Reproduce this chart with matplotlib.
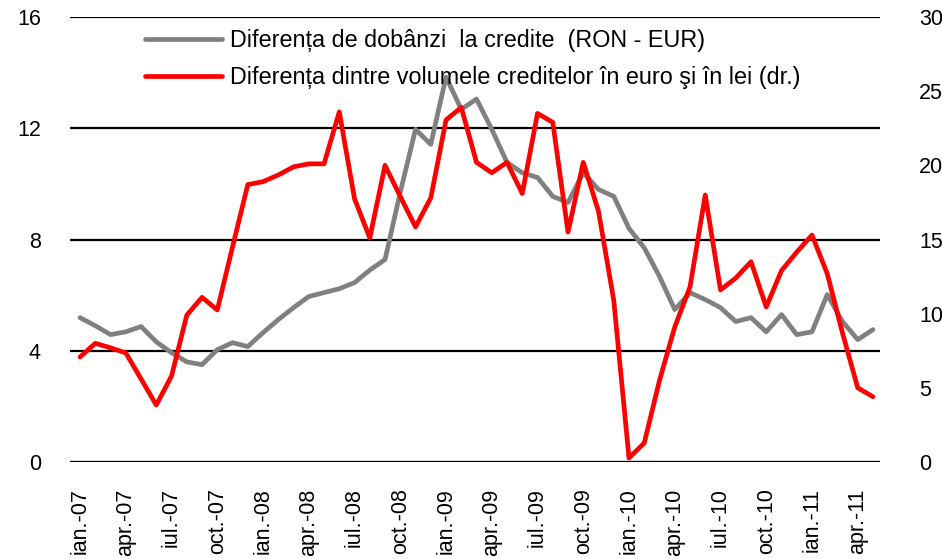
import matplotlib
matplotlib.use("Agg")
import matplotlib.pyplot as plt
import numpy as np

plt.rcParams['font.family'] = ['Liberation Sans', 'DejaVu Sans']

# monthly data, ian.-07 .. mai.-11
tick_labels = ["ian.-07", "apr.-07", "iul.-07", "oct.-07",
               "ian.-08", "apr.-08", "iul.-08", "oct.-08",
               "ian.-09", "apr.-09", "iul.-09", "oct.-09",
               "ian.-10", "apr.-10", "iul.-10", "oct.-10",
               "ian.-11", "apr.-11"]

# Diferenta de dobanzi la credite (RON - EUR), left axis
rate_diff = [5.19, 4.9, 4.58, 4.68, 4.87, 4.32, 3.93, 3.6, 3.5, 4.04,
             4.29, 4.15, 4.65, 5.12, 5.55, 5.95, 6.09, 6.23, 6.45, 6.9,
             7.28, 9.7, 11.96, 11.42, 13.84, 12.68, 13.05, 11.96, 10.77, 10.4,
             10.23, 9.55, 9.33, 10.4, 9.8, 9.55, 8.4, 7.7, 6.67, 5.48,
             6.09, 5.84, 5.55, 5.05, 5.19, 4.68, 5.3, 4.58, 4.68, 6.02,
             5.05, 4.4, 4.76]

# Diferenta dintre volumele creditelor in euro si in lei (dr.), right axis
volume_diff = [7.08, 8.0, 7.7, 7.35, 5.6, 3.84, 5.8, 9.9, 11.1, 10.25,
               14.5, 18.7, 18.9, 19.35, 19.9, 20.1, 20.1, 23.6, 17.75, 15.1,
               20.0, 17.9, 15.85, 17.8, 23.06, 23.9, 20.2, 19.5, 20.2, 18.1,
               23.5, 22.9, 15.5, 20.2, 16.9, 10.9, 0.27, 1.28, 5.5, 9.1,
               11.8, 18.0, 11.6, 12.4, 13.5, 10.45, 12.9, 14.15, 15.3, 12.7,
               8.7, 5.0, 4.4]

label_rate = "Diferența de dobânzi  la credite  (RON - EUR)"
label_vol = "Diferența dintre volumele creditelor în euro şi în lei (dr.)"

x = np.arange(len(rate_diff))

fig = plt.figure(figsize=(9.42, 5.59), dpi=100)
ax = fig.add_axes([70/942, 1-462/559, 810/942, 445/559])
ax2 = ax.twinx()

for yv in [4, 8, 12, 16]:
    ax.axhline(yv, color='black', lw=1.6, zorder=1)
ax.axhline(0, color='black', lw=2.4, zorder=1)

l1, = ax.plot(x, rate_diff, color='#808080', lw=3.4, zorder=3, label=label_rate,
              solid_joinstyle='round', solid_capstyle='round')
l2, = ax2.plot(x, volume_diff, color='#FF0000', lw=3.4, zorder=3, label=label_vol,
               solid_joinstyle='round', solid_capstyle='round')

ax.set_xlim(-0.66, 52.46)
ax.set_ylim(0, 16)
ax2.set_ylim(0, 30)
ax.set_yticks([0, 4, 8, 12, 16])
ax2.set_yticks([0, 5, 10, 15, 20, 25, 30])
ax.set_xticks(np.arange(0, len(rate_diff), 3))
ax.set_xticklabels(tick_labels, rotation=90, va='top', ha='center')

for a in (ax, ax2):
    for s in a.spines.values():
        s.set_visible(False)
ax.tick_params(axis='y', length=0, pad=21, labelsize=15.5)
ax2.tick_params(axis='y', length=0, pad=28, labelsize=15.5)
ax.tick_params(axis='x', length=0, pad=19, labelsize=15.5)

fig.legend(handles=[l1, l2], loc='upper left',
           bbox_to_anchor=(145/942, 1-29/559), frameon=False,
           fontsize=16.8, handlelength=3.3, handletextpad=0.35,
           labelspacing=0.6, borderpad=0, borderaxespad=0)

fig.savefig("out.png", dpi=100)
